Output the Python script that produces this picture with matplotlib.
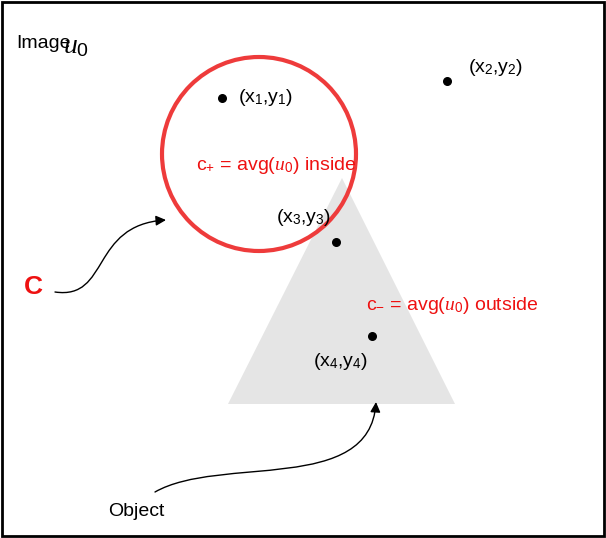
import matplotlib.pyplot as plt
from matplotlib.patches import Circle, Polygon, Rectangle, FancyArrowPatch
from matplotlib.path import Path

plt.rcParams['mathtext.fontset'] = 'custom'
plt.rcParams['mathtext.rm'] = 'Liberation Sans'
plt.rcParams['mathtext.it'] = 'Liberation Serif:italic'

# pixel-space diagram data
pts_x = [222, 447, 336, 372]
pts_y = [98, 81, 242, 336]
lbl_txt = [r'(x$_\mathrm{1}$,y$_\mathrm{1}$)', r'(x$_\mathrm{2}$,y$_\mathrm{2}$)',
           r'(x$_\mathrm{3}$,y$_\mathrm{3}$)', r'(x$_\mathrm{4}$,y$_\mathrm{4}$)']
lbl_x = [238, 468, 276, 313]
lbl_y = [98, 68, 218, 361]
circle_c = (259, 154)
circle_r = 97
tri = [(342, 178), (228, 404), (455, 404)]
arrow_c = [(55, 292), (110, 300), (90, 225), (166, 220)]
arrow_obj = [(155, 492), (220, 455), (370, 495), (376, 402)]

fig = plt.figure(figsize=(6.06, 5.38), dpi=100)
ax = fig.add_axes([0, 0, 1, 1])
ax.set_xlim(0, 606)
ax.set_ylim(538, 0)
ax.axis('off')

ax.add_patch(Rectangle((1.5, 1.5), 602, 534, fill=False, ec='black', lw=2))
ax.add_patch(Polygon(tri, closed=True, fc='#e5e5e5', ec='none'))
ax.add_patch(Circle(circle_c, circle_r, fill=False, ec='#ee3b3b', lw=3))
ax.scatter(pts_x, pts_y, s=30, c='black', zorder=5)
for t, x, y in zip(lbl_txt, lbl_x, lbl_y):
    ax.text(x, y, t, fontsize=14, family='Liberation Sans', va='center', ha='left')

ax.text(16, 43, 'Image', fontsize=14, family='Liberation Sans', va='center')
ax.text(63, 45, r'$u_\mathrm{0}$', fontsize=20, va='center')
ax.text(196, 165, r'c$_\mathrm{+}$ = avg($u_\mathrm{0}$) inside', fontsize=14, color='#ee1111',
        family='Liberation Sans', va='center')
ax.text(366, 305, r'c$_\mathrm{-}$ = avg($u_\mathrm{0}$) outside', fontsize=14, color='#ee1111',
        family='Liberation Sans', va='center')
ax.text(24, 287, 'C', fontsize=19, color='#ee1111', fontweight='bold',
        family='Liberation Sans', va='center')
ax.text(108, 512, 'Object', fontsize=14, family='Liberation Sans', va='center')

codes = [Path.MOVETO, Path.CURVE4, Path.CURVE4, Path.CURVE4]
for pts in (arrow_c, arrow_obj):
    ax.add_patch(FancyArrowPatch(path=Path(pts, codes), arrowstyle='-|>',
                                 mutation_scale=15, lw=1, color='black'))

fig.savefig('out.png', dpi=100)
